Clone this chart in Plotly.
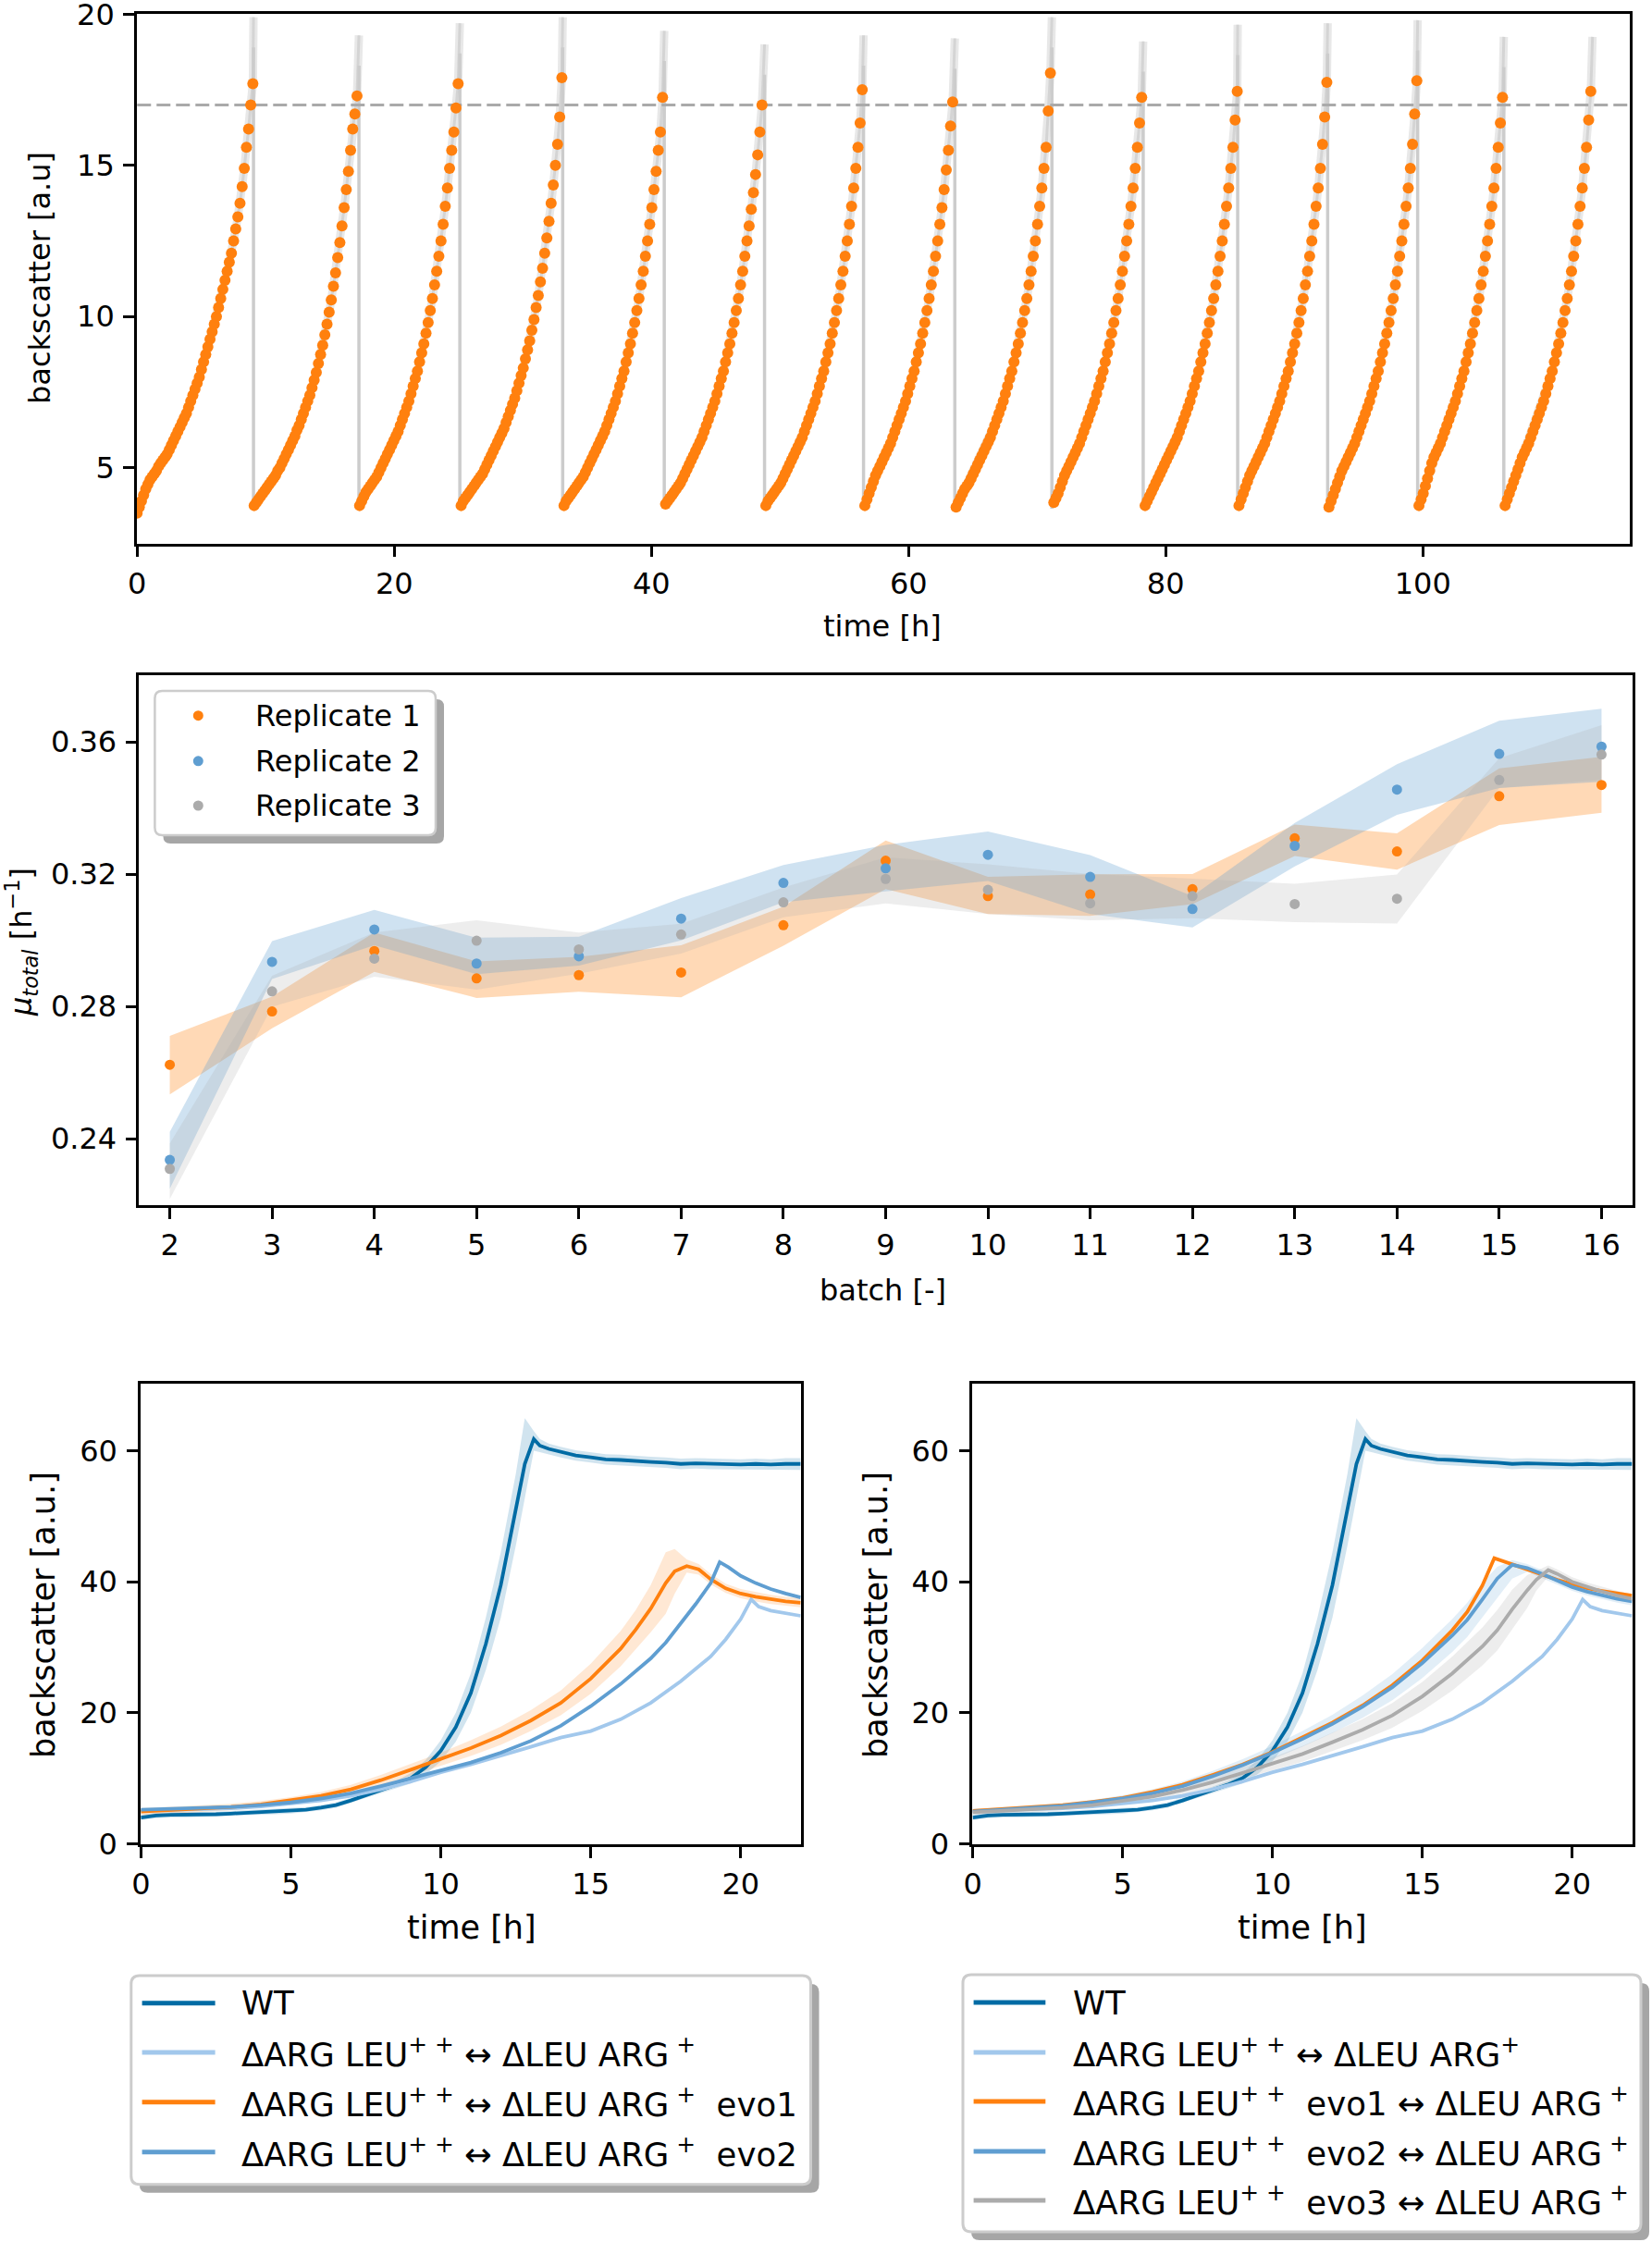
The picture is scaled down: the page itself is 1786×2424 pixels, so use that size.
import numpy as np
import plotly.graph_objects as go

W, H = 1786, 2424
FONT = "DejaVu Sans"

# ---------------- DATA ----------------
# top panel: repeated batch cultivation, orange = measured backscatter every 10 min
sample_step_h = 1 / 6
threshold = 17.0
cycle_start = [0.0, 9.1, 17.3, 25.2, 33.2, 41.1, 48.9, 56.6, 63.7, 71.3, 78.4, 85.7, 92.7, 99.7, 106.4]
cycle_drop = [9.05, 17.25, 25.1, 33.1, 41.0, 48.8, 56.5, 63.6, 71.15, 78.25, 85.6, 92.6, 99.6, 106.3, 113.2]
grey_top = [19.9, 19.3, 19.7, 19.9, 19.45, 19.0, 19.3, 19.2, 19.9, 19.1, 19.65, 19.7, 19.8, 19.25, 19.25]
grey_floor = [3.65, 3.65, 3.65, 3.65, 3.65, 3.65, 3.65, 3.65, 3.65, 3.65, 3.65, 3.65, 3.65, 3.65]

c1 = [3.5, 3.7, 3.9, 4.1, 4.3, 4.45, 4.6, 4.7, 4.8, 4.9, 5.05, 5.15, 5.25, 5.35, 5.45, 5.6, 5.75, 5.9, 6.05,
      6.2, 6.35, 6.5, 6.65, 6.8, 7.0, 7.2, 7.4, 7.6, 7.8, 8.0, 8.25, 8.5, 8.75, 9.0, 9.25, 9.5, 9.75, 10.0,
      10.3, 10.6, 10.9, 11.2, 11.5, 11.8, 12.1, 12.5, 12.9, 13.3, 13.75, 14.3, 14.9, 15.6, 16.2, 17.0, 17.7]
c2 = [3.75, 3.85, 3.95, 4.05, 4.15, 4.25, 4.35, 4.45, 4.55, 4.65, 4.75, 4.9, 5.0, 5.15, 5.3, 5.45, 5.6, 5.75,
      5.9, 6.05, 6.25, 6.4, 6.6, 6.8, 7.0, 7.2, 7.4, 7.65, 7.9, 8.15, 8.45, 8.75, 9.05, 9.4, 9.75, 10.15, 10.55,
      11.0, 11.45, 11.95, 12.45, 13.0, 13.6, 14.2, 14.8, 15.5, 16.2, 16.7, 17.3]
c3 = [3.75, 3.9, 4.05, 4.2, 4.3, 4.4, 4.5, 4.6, 4.7, 4.85, 5.0, 5.15, 5.3, 5.45, 5.6, 5.75, 5.9, 6.05, 6.2,
      6.4, 6.6, 6.8, 7.0, 7.2, 7.45, 7.7, 7.95, 8.2, 8.5, 8.8, 9.1, 9.45, 9.8, 10.2, 10.6, 11.05, 11.5, 12.0,
      12.5, 13.05, 13.65, 14.25, 14.9, 15.5, 16.1, 16.9, 17.7]
c4 = [3.75, 3.9, 4.0, 4.1, 4.2, 4.3, 4.4, 4.5, 4.6, 4.7, 4.8, 4.95, 5.1, 5.25, 5.4, 5.55, 5.7, 5.85, 6.0,
      6.15, 6.3, 6.5, 6.7, 6.9, 7.1, 7.3, 7.55, 7.8, 8.05, 8.3, 8.6, 8.9, 9.2, 9.55, 9.9, 10.3, 10.7, 11.15,
      11.6, 12.1, 12.6, 13.15, 13.75, 14.35, 15.0, 15.7, 16.6, 17.9]
c5 = [3.75, 3.9, 4.0, 4.1, 4.2, 4.3, 4.4, 4.5, 4.6, 4.7, 4.85, 5.0, 5.15, 5.3, 5.45, 5.6, 5.75, 5.9, 6.05,
      6.2, 6.4, 6.6, 6.8, 7.0, 7.2, 7.45, 7.7, 7.95, 8.2, 8.5, 8.8, 9.1, 9.45, 9.8, 10.2, 10.6, 11.05, 11.5,
      12.0, 12.5, 13.05, 13.6, 14.2, 14.8, 15.5, 16.1, 17.25]
c6 = [3.8, 3.9, 4.0, 4.1, 4.2, 4.3, 4.4, 4.5, 4.65, 4.8, 4.95, 5.1, 5.25, 5.4, 5.55, 5.7, 5.85, 6.0, 6.2,
      6.4, 6.6, 6.8, 7.0, 7.2, 7.45, 7.7, 7.95, 8.2, 8.5, 8.8, 9.1, 9.45, 9.8, 10.2, 10.6, 11.05, 11.5, 12.0,
      12.5, 13.0, 13.55, 14.1, 14.7, 15.35, 16.1, 17.0]
c7 = [3.75, 3.9, 4.0, 4.1, 4.2, 4.3, 4.4, 4.5, 4.65, 4.8, 4.95, 5.1, 5.25, 5.4, 5.55, 5.7, 5.85, 6.0, 6.2,
      6.4, 6.6, 6.8, 7.0, 7.2, 7.45, 7.7, 7.95, 8.2, 8.5, 8.8, 9.1, 9.45, 9.8, 10.2, 10.6, 11.05, 11.5, 12.0,
      12.5, 13.05, 13.65, 14.25, 14.9, 15.6, 16.4, 17.5]
c8 = [3.75, 3.95, 4.15, 4.35, 4.55, 4.75, 4.9, 5.05, 5.2, 5.35, 5.5, 5.65, 5.8, 6.0, 6.2, 6.4, 6.6, 6.8, 7.0,
      7.2, 7.45, 7.7, 7.95, 8.2, 8.5, 8.8, 9.1, 9.45, 9.8, 10.2, 10.6, 11.05, 11.5, 12.0, 12.5, 13.05, 13.6,
      14.2, 14.85, 15.5, 16.3, 17.1]
c9 = [3.7, 3.85, 4.0, 4.15, 4.3, 4.4, 4.5, 4.65, 4.8, 4.95, 5.1, 5.25, 5.4, 5.55, 5.7, 5.85, 6.0, 6.2, 6.4,
      6.6, 6.8, 7.0, 7.2, 7.45, 7.7, 7.95, 8.2, 8.5, 8.8, 9.1, 9.45, 9.8, 10.2, 10.6, 11.05, 11.5, 12.0, 12.5,
      13.05, 13.65, 14.25, 14.9, 15.6, 16.8, 18.05]
c10 = [3.85, 4.0, 4.15, 4.35, 4.55, 4.75, 4.9, 5.05, 5.2, 5.35, 5.5, 5.65, 5.8, 6.0, 6.2, 6.4, 6.6, 6.8, 7.0,
       7.2, 7.45, 7.7, 7.95, 8.2, 8.5, 8.8, 9.1, 9.45, 9.8, 10.2, 10.6, 11.05, 11.5, 12.0, 12.5, 13.05, 13.65,
       14.25, 14.9, 15.6, 16.4, 17.25]
c11 = [3.75, 3.9, 4.05, 4.2, 4.35, 4.5, 4.65, 4.8, 4.95, 5.1, 5.25, 5.4, 5.55, 5.7, 5.85, 6.0, 6.2, 6.4, 6.6,
       6.8, 7.0, 7.2, 7.45, 7.7, 7.95, 8.2, 8.5, 8.8, 9.1, 9.45, 9.8, 10.2, 10.6, 11.05, 11.5, 12.0, 12.5, 13.05,
       13.65, 14.25, 14.9, 15.6, 16.5, 17.45]
c12 = [3.75, 3.95, 4.15, 4.35, 4.55, 4.75, 4.9, 5.05, 5.2, 5.35, 5.5, 5.65, 5.8, 6.0, 6.2, 6.4, 6.6, 6.8, 7.0,
       7.2, 7.45, 7.7, 7.95, 8.2, 8.5, 8.8, 9.1, 9.45, 9.8, 10.2, 10.6, 11.05, 11.5, 12.0, 12.5, 13.05, 13.65,
       14.25, 14.9, 15.7, 16.6, 17.75]
c13 = [3.7, 3.9, 4.1, 4.3, 4.5, 4.7, 4.9, 5.05, 5.2, 5.35, 5.5, 5.65, 5.8, 6.0, 6.2, 6.4, 6.6, 6.8, 7.0, 7.2,
       7.45, 7.7, 7.95, 8.2, 8.5, 8.8, 9.1, 9.45, 9.8, 10.2, 10.6, 11.05, 11.5, 12.0, 12.5, 13.05, 13.65, 14.25,
       14.9, 15.7, 16.7, 17.8]
c14 = [3.75, 3.95, 4.15, 4.4, 4.65, 4.9, 5.15, 5.35, 5.5, 5.65, 5.8, 6.0, 6.2, 6.4, 6.6, 6.8, 7.0, 7.2, 7.45,
       7.7, 7.95, 8.2, 8.5, 8.8, 9.1, 9.45, 9.8, 10.2, 10.6, 11.05, 11.5, 12.0, 12.5, 13.05, 13.65, 14.25, 14.9,
       15.6, 16.4, 17.25]
c15 = [3.75, 3.95, 4.15, 4.35, 4.55, 4.75, 4.95, 5.15, 5.35, 5.5, 5.65, 5.8, 6.0, 6.2, 6.4, 6.6, 6.8, 7.0,
       7.2, 7.45, 7.7, 7.95, 8.2, 8.5, 8.8, 9.1, 9.45, 9.8, 10.2, 10.6, 11.05, 11.5, 12.0, 12.5, 13.05, 13.65,
       14.25, 14.9, 15.6, 16.5, 17.45]
cycle_vals = [c1, c2, c3, c4, c5, c6, c7, c8, c9, c10, c11, c12, c13, c14, c15]

# middle panel: growth rate per batch
batches = [2, 3, 4, 5, 6, 7, 8, 9, 10, 11, 12, 13, 14, 15, 16]
rep1 = [0.2624, 0.2785, 0.2968, 0.2885, 0.2895, 0.2903, 0.3046, 0.3241, 0.3134, 0.3139, 0.3155, 0.3309, 0.3269, 0.3436, 0.3470]
rep2 = [0.2336, 0.2935, 0.3033, 0.2930, 0.2952, 0.3066, 0.3174, 0.3218, 0.3259, 0.3192, 0.3095, 0.3286, 0.3456, 0.3564, 0.3586]
rep3 = [0.2309, 0.2846, 0.2945, 0.2999, 0.2973, 0.3018, 0.3115, 0.3186, 0.3153, 0.3112, 0.3134, 0.3110, 0.3126, 0.3485, 0.3562]
rep1_hi = [0.2711, 0.2830, 0.3024, 0.2936, 0.2950, 0.2985, 0.3102, 0.3302, 0.3192, 0.3200, 0.3201, 0.3350, 0.3324, 0.3520, 0.3555]
rep1_lo = [0.2534, 0.2734, 0.2905, 0.2826, 0.2845, 0.2828, 0.2984, 0.3155, 0.3080, 0.3074, 0.3110, 0.3255, 0.3214, 0.3349, 0.3386]
rep2_hi = [0.2421, 0.2998, 0.3092, 0.3008, 0.3011, 0.3128, 0.3228, 0.3289, 0.3329, 0.3258, 0.3134, 0.3355, 0.3533, 0.3664, 0.3701]
rep2_lo = [0.2249, 0.2883, 0.2985, 0.2898, 0.2924, 0.3000, 0.3115, 0.3148, 0.3180, 0.3080, 0.3039, 0.3224, 0.3380, 0.3461, 0.3480]
rep3_hi = [0.2386, 0.2893, 0.3024, 0.3061, 0.3024, 0.3050, 0.3160, 0.3251, 0.3230, 0.3201, 0.3187, 0.3171, 0.3199, 0.3551, 0.3651]
rep3_lo = [0.2218, 0.2799, 0.2890, 0.2851, 0.2899, 0.2960, 0.3070, 0.3112, 0.3080, 0.3061, 0.3067, 0.3055, 0.3051, 0.3461, 0.3486]
rep_names = ["Replicate 1", "Replicate 2", "Replicate 3"]

# bottom panels: co-culture growth curves
wt_t = [0, 0.5, 1, 1.5, 2, 2.5, 3, 3.5, 4, 4.5, 5, 5.5, 6, 6.5, 7, 7.5, 8, 8.5, 9, 9.5, 10, 10.5, 11, 11.5, 12,
        12.5, 12.8, 13.1, 13.3, 13.6, 14, 14.5, 15, 15.5, 16, 16.5, 17, 17.5, 18, 18.5, 19, 19.5, 20, 20.5, 21, 21.5, 22]
wt_v = [4.0, 4.3, 4.4, 4.4, 4.5, 4.5, 4.6, 4.7, 4.8, 4.9, 5.0, 5.2, 5.5, 5.9, 6.6, 7.4, 8.2, 9.0, 10.0, 11.7,
        14.2, 17.8, 23.0, 30.5, 39.5, 51.0, 58.0, 61.8, 60.8, 60.3, 59.8, 59.3, 59.0, 58.7, 58.6, 58.4, 58.3,
        58.2, 58.0, 58.1, 58.0, 58.0, 57.9, 58.0, 57.9, 58.0, 58.0]
wt_hi = [4.4, 4.7, 4.8, 4.8, 4.9, 4.9, 5.0, 5.1, 5.2, 5.3, 5.4, 5.6, 5.9, 6.3, 7.0, 7.8, 8.7, 9.6, 10.8, 12.8,
         15.8, 20.0, 26.0, 34.5, 44.5, 56.5, 65.0, 63.0, 61.8, 61.1, 60.6, 60.1, 59.8, 59.5, 59.4, 59.2, 59.1,
         59.0, 58.8, 58.9, 58.8, 58.8, 58.7, 58.8, 58.7, 58.9, 58.9]
wt_lo = [3.6, 3.9, 4.0, 4.0, 4.1, 4.1, 4.2, 4.3, 4.4, 4.5, 4.6, 4.8, 5.1, 5.5, 6.2, 7.0, 7.7, 8.4, 9.2, 10.6,
         12.6, 15.6, 20.0, 26.5, 34.5, 45.5, 53.0, 60.0, 59.8, 59.5, 59.0, 58.5, 58.2, 57.9, 57.8, 57.6, 57.5,
         57.4, 57.2, 57.3, 57.2, 57.2, 57.1, 57.2, 57.1, 57.1, 57.1]

anc_t = [0, 1, 2, 3, 4, 5, 6, 7, 8, 9, 10, 11, 12, 13, 14, 15, 16, 17, 18, 19, 19.5, 20, 20.35, 20.6, 21, 21.5, 22]
anc_v = [5.0, 5.1, 5.2, 5.4, 5.7, 6.1, 6.6, 7.3, 8.3, 9.5, 10.9, 12.1, 13.4, 14.8, 16.2, 17.2, 19.0, 21.5,
         24.8, 28.6, 31.2, 34.3, 37.3, 36.2, 35.6, 35.2, 34.8]

evo1L_t = [0, 1, 2, 3, 4, 5, 6, 7, 8, 9, 10, 11, 12, 13, 14, 15, 16, 16.5, 17, 17.5, 17.8, 18.2, 18.6, 19, 19.5,
           20, 20.5, 21, 21.5, 22]
evo1L_v = [4.9, 5.1, 5.3, 5.6, 6.0, 6.6, 7.3, 8.3, 9.7, 11.3, 12.9, 14.6, 16.5, 18.8, 21.5, 25.2, 29.8, 32.7,
           35.9, 39.8, 41.6, 42.4, 41.9, 40.4, 39.0, 38.2, 37.7, 37.3, 37.0, 36.8]
evo1L_hi = [5.4, 5.6, 5.8, 6.1, 6.5, 7.1, 7.9, 9.0, 10.5, 12.2, 13.9, 15.8, 17.9, 20.4, 23.4, 27.5, 32.5, 35.7,
            39.5, 44.5, 45.0, 43.4, 42.7, 41.2, 39.7, 38.9, 38.4, 38.0, 37.7, 37.5]
evo1L_lo = [4.4, 4.6, 4.8, 5.1, 5.5, 6.1, 6.7, 7.6, 8.9, 10.4, 11.9, 13.4, 15.1, 17.2, 19.6, 22.9, 27.1, 29.7,
            32.3, 35.1, 38.2, 41.4, 41.1, 39.6, 38.3, 37.5, 37.0, 36.6, 36.3, 36.1]

evo2L_t = [0, 1, 2, 3, 4, 5, 6, 7, 8, 9, 10, 11, 12, 13, 14, 15, 16, 17, 17.5, 18, 18.5, 19, 19.3, 19.6, 20,
           20.5, 21, 21.5, 22]
evo2L_v = [5.2, 5.3, 5.4, 5.6, 5.9, 6.3, 6.9, 7.7, 8.8, 10.0, 11.1, 12.4, 13.9, 15.7, 18.0, 21.0, 24.4, 28.3,
           30.7, 33.6, 36.6, 39.8, 43.0, 42.2, 40.9, 39.8, 38.9, 38.2, 37.6]

evo1R_t = [0, 1, 2, 3, 4, 5, 6, 7, 8, 9, 10, 11, 12, 13, 14, 15, 16, 16.5, 17, 17.4, 17.8, 18.5, 19, 19.5, 20,
           20.5, 21, 21.5, 22]
evo1R_v = [5.0, 5.3, 5.6, 5.9, 6.4, 7.0, 7.9, 9.0, 10.5, 12.1, 14.0, 16.2, 18.5, 21.1, 24.2, 28.0, 32.6, 35.4,
           39.4, 43.6, 43.0, 41.9, 41.1, 40.3, 39.6, 39.0, 38.6, 38.2, 37.9]

evo2R_t = [0, 1, 2, 3, 4, 5, 6, 7, 8, 9, 10, 11, 12, 13, 14, 15, 16, 16.5, 17, 17.5, 18.0, 18.5, 19, 19.5, 20,
           20.5, 21, 21.5, 22]
evo2R_v = [4.9, 5.2, 5.5, 5.8, 6.3, 6.9, 7.7, 8.8, 10.3, 12.0, 13.9, 16.0, 18.3, 20.9, 23.9, 27.6, 31.8, 34.2,
           37.3, 40.5, 42.6, 42.1, 41.2, 40.2, 39.2, 38.5, 37.9, 37.4, 37.0]
evo2R_hi = [5.3, 5.6, 5.9, 6.2, 6.7, 7.4, 8.3, 9.5, 11.1, 12.9, 14.9, 17.2, 19.7, 22.6, 25.9, 29.9, 34.3, 36.8,
            39.8, 42.3, 43.3, 42.7, 41.8, 40.8, 39.8, 39.1, 38.5, 38.0, 37.6]
evo2R_lo = [4.5, 4.8, 5.1, 5.4, 5.9, 6.4, 7.1, 8.1, 9.5, 11.1, 12.9, 14.8, 16.9, 19.2, 21.9, 25.3, 29.3, 31.6,
            34.6, 37.5, 40.5, 41.5, 40.6, 39.6, 38.6, 37.9, 37.3, 36.8, 36.4]

evo3R_t = [0, 1, 2, 3, 4, 5, 6, 7, 8, 9, 10, 11, 12, 13, 14, 15, 16, 17, 17.5, 18, 18.5, 18.8, 19.2, 19.5, 20,
           20.5, 21, 21.5, 22]
evo3R_v = [4.8, 5.0, 5.2, 5.5, 5.9, 6.5, 7.2, 8.2, 9.4, 10.8, 12.2, 13.7, 15.5, 17.4, 19.6, 22.5, 26.0, 30.1,
           32.6, 35.8, 38.7, 40.3, 41.8, 41.2, 40.0, 39.2, 38.5, 37.9, 37.4]
evo3R_hi = [5.2, 5.4, 5.6, 5.9, 6.3, 7.0, 7.8, 8.9, 10.2, 11.7, 13.2, 14.9, 16.9, 19.0, 21.5, 24.7, 28.6, 33.0,
            35.7, 38.8, 41.0, 41.6, 42.5, 41.9, 40.7, 39.9, 39.2, 38.6, 38.1]
evo3R_lo = [4.4, 4.6, 4.8, 5.1, 5.5, 6.0, 6.6, 7.5, 8.6, 9.9, 11.2, 12.5, 14.1, 15.8, 17.7, 20.3, 23.4, 27.2,
            29.5, 32.8, 36.0, 38.6, 40.8, 40.5, 39.3, 38.5, 37.8, 37.2, 36.7]

legend_left = ["WT",
               "ΔARG LEU<sup>+ +</sup> ↔ ΔLEU ARG<sup> +</sup>",
               "ΔARG LEU<sup>+ +</sup> ↔ ΔLEU ARG<sup> +</sup>  evo1",
               "ΔARG LEU<sup>+ +</sup> ↔ ΔLEU ARG<sup> +</sup>  evo2"]
legend_right = ["WT",
                "ΔARG LEU<sup>+ +</sup> ↔ ΔLEU ARG<sup>+</sup>",
                "ΔARG LEU<sup>+ +</sup>  evo1 ↔ ΔLEU ARG<sup> +</sup>",
                "ΔARG LEU<sup>+ +</sup>  evo2 ↔ ΔLEU ARG<sup> +</sup>",
                "ΔARG LEU<sup>+ +</sup>  evo3 ↔ ΔLEU ARG<sup> +</sup>"]

# ---------------- STYLE ----------------
C_WT = "#006BA4"
C_ANC = "#A2C8EC"
C_OR = "#FF800E"
C_BL = "#5F9ED1"
C_GR = "#ABABAB"


def X(p):
    return p / W


def Y(p):
    return 1 - p / H


fig = go.Figure()

# ---- top panel ----
hx, hy, vx, vy, ox, oy = [], [], [], [], [], []
for k, vals in enumerate(cycle_vals):
    t = cycle_start[k] + np.arange(len(vals)) * sample_step_h
    ox += list(t)
    oy += list(vals)
    hx += list(t) + [cycle_drop[k], None]
    hy += list(vals) + [grey_top[k], None]
    if k < len(grey_floor):
        vx += [cycle_drop[k], cycle_drop[k], None]
        vy += [grey_top[k] - 1.0, grey_floor[k], None]
fig.add_trace(go.Scatter(x=hx, y=hy, mode="lines", line=dict(color="rgba(205,205,205,0.45)", width=9),
                         xaxis="x", yaxis="y", hoverinfo="skip", showlegend=False))
fig.add_trace(go.Scatter(x=hx, y=hy, mode="lines", line=dict(color="rgba(210,210,210,0.9)", width=3),
                         xaxis="x", yaxis="y", hoverinfo="skip", showlegend=False))
fig.add_trace(go.Scatter(x=vx, y=vy, mode="lines", line=dict(color="#cccccc", width=3.5),
                         xaxis="x", yaxis="y", hoverinfo="skip", showlegend=False))
fig.add_trace(go.Scatter(x=[0, 116.1], y=[threshold, threshold], mode="lines",
                         line=dict(color="#aaaaaa", width=3, dash="15px,6px"),
                         xaxis="x", yaxis="y", showlegend=False))
fig.add_trace(go.Scatter(x=ox, y=oy, mode="markers", marker=dict(size=12, color=C_OR),
                         xaxis="x", yaxis="y", showlegend=False))

# ---- middle panel ----
bands = [(rep1_hi, rep1_lo, "rgba(255,128,14,0.30)"),
         (rep2_hi, rep2_lo, "rgba(95,158,209,0.30)"),
         (rep3_hi, rep3_lo, "rgba(171,171,171,0.22)")]
for hi, lo, fc in bands:
    fig.add_trace(go.Scatter(x=batches + batches[::-1], y=hi + lo[::-1], mode="lines", fill="toself",
                             fillcolor=fc, line=dict(width=0), xaxis="x2", yaxis="y2",
                             hoverinfo="skip", showlegend=False))
for vals, col, nm in [(rep1, C_OR, rep_names[0]), (rep2, C_BL, rep_names[1]), (rep3, C_GR, rep_names[2])]:
    fig.add_trace(go.Scatter(x=batches, y=vals, mode="markers", marker=dict(size=11, color=col),
                             name=nm, xaxis="x2", yaxis="y2", showlegend=False))


def band(t, hi, lo, fc, xa, ya):
    fig.add_trace(go.Scatter(x=t + t[::-1], y=hi + lo[::-1], mode="lines", fill="toself", fillcolor=fc,
                             line=dict(width=0), xaxis=xa, yaxis=ya, hoverinfo="skip", showlegend=False))


def curve(t, v, col, xa, ya):
    fig.add_trace(go.Scatter(x=t, y=v, mode="lines", line=dict(color=col, width=3.8),
                             xaxis=xa, yaxis=ya, showlegend=False))


# ---- bottom left ----
band(wt_t, wt_hi, wt_lo, "rgba(0,107,164,0.18)", "x3", "y3")
band(evo1L_t, evo1L_hi, evo1L_lo, "rgba(255,128,14,0.18)", "x3", "y3")
curve(wt_t, wt_v, C_WT, "x3", "y3")
curve(anc_t, anc_v, C_ANC, "x3", "y3")
curve(evo1L_t, evo1L_v, C_OR, "x3", "y3")
curve(evo2L_t, evo2L_v, C_BL, "x3", "y3")

# ---- bottom right ----
band(wt_t, wt_hi, wt_lo, "rgba(0,107,164,0.18)", "x4", "y4")
band(evo2R_t, evo2R_hi, evo2R_lo, "rgba(95,158,209,0.18)", "x4", "y4")
band(evo3R_t, evo3R_hi, evo3R_lo, "rgba(171,171,171,0.22)", "x4", "y4")
curve(wt_t, wt_v, C_WT, "x4", "y4")
curve(anc_t, anc_v, C_ANC, "x4", "y4")
curve(evo1R_t, evo1R_v, C_OR, "x4", "y4")
curve(evo2R_t, evo2R_v, C_BL, "x4", "y4")
curve(evo3R_t, evo3R_v, C_GR, "x4", "y4")


# ---------------- LAYOUT ----------------
def ax(standoff, **kw):
    d = dict(showline=True, linecolor="black", linewidth=2.7, mirror=True, ticks="outside",
             ticklen=12, tickwidth=2.5, tickcolor="black", showgrid=False, zeroline=False,
             tickfont=dict(family=FONT, size=32, color="black"), ticklabelstandoff=standoff,
             ticklabeloverflow="allow", automargin=False)
    d.update(kw)
    return d


layout = dict(
    width=W, height=H, margin=dict(l=0, r=0, t=0, b=0, autoexpand=False),
    paper_bgcolor="white", plot_bgcolor="white", showlegend=False,
    font=dict(family=FONT, color="black"),
    xaxis=ax(1, domain=[X(148), X(1762)], range=[-0.02, 116.1], tickvals=[0, 20, 40, 60, 80, 100], anchor="y"),
    yaxis=ax(3, domain=[Y(587.5), Y(14.7)], range=[2.5, 20.02], tickvals=[5, 10, 15, 20], anchor="x"),
    xaxis2=ax(1, domain=[X(150.4), X(1764.6)], range=[1.7, 16.3], tickvals=batches, anchor="y2"),
    yaxis2=ax(3, domain=[Y(1302.7), Y(730.4)], range=[0.22, 0.3801], tickvals=[0.24, 0.28, 0.32, 0.36],
              ticktext=["0.24", "0.28", "0.32", "0.36"], anchor="x2"),
    xaxis3=ax(1, domain=[X(152.1), X(865.6)], range=[-0.01, 22.0], tickvals=[0, 5, 10, 15, 20], anchor="y3"),
    yaxis3=ax(4, domain=[Y(1993.7), Y(1496.4)], range=[-0.05, 70.2], tickvals=[0, 20, 40, 60], anchor="x3"),
    xaxis4=ax(1, domain=[X(1051.4), X(1764.5)], range=[-0.01, 22.0], tickvals=[0, 5, 10, 15, 20], anchor="y4"),
    yaxis4=ax(4, domain=[Y(1993.7), Y(1496.4)], range=[-0.05, 70.2], tickvals=[0, 20, 40, 60], anchor="x4"),
)
fig.update_layout(**layout)

ann = []


def text(px, py, s, size, angle=0, xanchor="center", yanchor="middle"):
    ann.append(dict(x=X(px), y=Y(py), xref="paper", yref="paper", text=s, showarrow=False,
                    textangle=angle, xanchor=xanchor, yanchor=yanchor,
                    font=dict(family=FONT, size=size, color="black")))


# axis titles
text(954, 677, "time [h]", 32)
text(43, 301, "backscatter [a.u]", 32, angle=-90)
text(955, 1395, "batch [-]", 32)
text(23, 1019, "<i>μ<sub>total</sub></i> [h<sup>−1</sup>]", 32, angle=-90)
text(510, 2084, "time [h]", 35)
text(47, 1746, "backscatter [a.u.]", 35, angle=-90)
text(1408, 2084, "time [h]", 35)
text(947, 1746, "backscatter [a.u.]", 35, angle=-90)

shapes = []


def rrect(x0, y0, x1, y1, r, fill, line_col=None, lw=0):
    p = (f"M {X(x0 + r)},{Y(y0)} L {X(x1 - r)},{Y(y0)} Q {X(x1)},{Y(y0)} {X(x1)},{Y(y0 + r)} "
         f"L {X(x1)},{Y(y1 - r)} Q {X(x1)},{Y(y1)} {X(x1 - r)},{Y(y1)} "
         f"L {X(x0 + r)},{Y(y1)} Q {X(x0)},{Y(y1)} {X(x0)},{Y(y1 - r)} "
         f"L {X(x0)},{Y(y0 + r)} Q {X(x0)},{Y(y0)} {X(x0 + r)},{Y(y0)} Z")
    shapes.append(dict(type="path", path=p, xref="paper", yref="paper", fillcolor=fill,
                       line=dict(color=line_col if line_col else fill, width=lw), layer="above"))


# middle legend
rrect(176.4, 755.9, 480, 912, 8, "#a6a6a6")
rrect(167.4, 746.9, 471, 903, 8, "white", "#cccccc", 2.5)
for py, col, nm in zip([773.7, 822.8, 871.0], [C_OR, C_BL, C_GR], rep_names):
    shapes.append(dict(type="circle", xref="paper", yref="paper", x0=X(208.8), x1=X(219.8),
                       y0=Y(py + 5.5), y1=Y(py - 5.5), fillcolor=col, line=dict(width=0), layer="above"))
    text(274, py, nm, 32, xanchor="left")

# bottom-left legend
rrect(150.8, 2145, 885.5, 2370.7, 9, "#a6a6a6")
rrect(141.8, 2136, 876.5, 2361.7, 9, "white", "#cccccc", 3)
for py, col, s in zip([2165.7, 2219.0, 2272.7, 2326.7], [C_WT, C_ANC, C_OR, C_BL], legend_left):
    shapes.append(dict(type="line", xref="paper", yref="paper", x0=X(153.6), x1=X(232.6),
                       y0=Y(py), y1=Y(py), line=dict(color=col, width=5), layer="above"))
    text(259, py, s, 35.5, xanchor="left")

# bottom-right legend
rrect(1050, 2144, 1783, 2422, 9, "#a6a6a6")
rrect(1041, 2135, 1774, 2413, 9, "white", "#cccccc", 3)
for py, col, s in zip([2165.0, 2219.0, 2272.0, 2326.0, 2379.0], [C_WT, C_ANC, C_OR, C_BL, C_GR], legend_right):
    shapes.append(dict(type="line", xref="paper", yref="paper", x0=X(1052.6), x1=X(1130.3),
                       y0=Y(py), y1=Y(py), line=dict(color=col, width=5), layer="above"))
    text(1157.8, py, s, 35.5, xanchor="left")

fig.update_layout(annotations=ann, shapes=shapes)
fig.write_html("out.html", config={"displayModeBar": False},
               post_script="document.body.style.margin='0px';document.body.style.padding='0px';"
                           "document.documentElement.style.margin='0px';")
